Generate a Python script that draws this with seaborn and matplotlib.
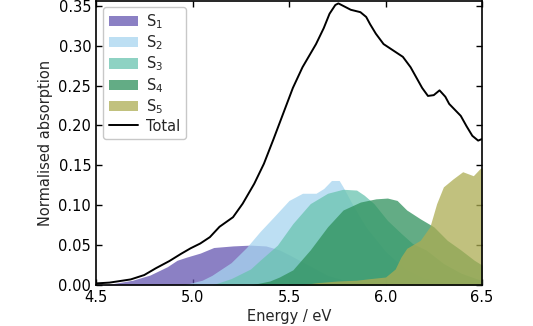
import numpy as np
import pandas as pd
import matplotlib
matplotlib.use("Agg")
import matplotlib.pyplot as plt
import seaborn as sns
from matplotlib.patches import Patch
from matplotlib.lines import Line2D

# ---- data ----
s1_x = [4.5, 4.57, 4.69, 4.78, 4.87, 4.92, 4.97, 5.04, 5.11, 5.21, 5.30, 5.38, 5.45, 5.5, 5.6, 5.7, 5.8, 5.9, 6.0]
s1_y = [0, 0.001, 0.006, 0.0125, 0.023, 0.031, 0.035, 0.040, 0.047, 0.049, 0.050, 0.049, 0.044, 0.038, 0.025, 0.012, 0.005, 0.002, 0]

s2_x = [4.95, 5.05, 5.1, 5.2, 5.28, 5.35, 5.42, 5.5, 5.57, 5.64, 5.68, 5.72, 5.76, 5.78, 5.82, 5.86, 5.9, 6.0, 6.1, 6.2, 6.3, 6.5]
s2_y = [0, 0.006, 0.012, 0.028, 0.047, 0.067, 0.085, 0.106, 0.115, 0.115, 0.121, 0.131, 0.131, 0.123, 0.105, 0.088, 0.072, 0.042, 0.02, 0.008, 0.003, 0]

s3_x = [5.1, 5.2, 5.3, 5.35, 5.44, 5.52, 5.61, 5.70, 5.78, 5.85, 5.89, 5.94, 6.01, 6.08, 6.14, 6.21, 6.30, 6.39, 6.47, 6.5]
s3_y = [0, 0.008, 0.02, 0.031, 0.05, 0.077, 0.102, 0.115, 0.120, 0.119, 0.1125, 0.102, 0.081, 0.065, 0.052, 0.044, 0.027, 0.015, 0.008, 0.006]

s4_x = [5.3, 5.4, 5.45, 5.52, 5.61, 5.70, 5.78, 5.87, 5.95, 6.01, 6.06, 6.11, 6.18, 6.25, 6.32, 6.39, 6.46, 6.5]
s4_y = [0, 0.005, 0.01, 0.019, 0.044, 0.073, 0.094, 0.104, 0.108, 0.109, 0.106, 0.094, 0.083, 0.073, 0.056, 0.044, 0.031, 0.025]

s5_x = [5.55, 5.65, 5.75, 5.85, 5.92, 6.0, 6.05, 6.08, 6.11, 6.18, 6.23, 6.265, 6.30, 6.35, 6.40, 6.455, 6.49, 6.5]
s5_y = [0, 0.003, 0.005, 0.006, 0.008, 0.010, 0.02, 0.035, 0.046, 0.056, 0.073, 0.102, 0.123, 0.133, 0.142, 0.137, 0.146, 0.147]

total_x = [4.5, 4.57, 4.68, 4.75, 4.81, 4.88, 4.94, 4.99, 5.04, 5.09, 5.14, 5.21, 5.26, 5.32, 5.37, 5.42, 5.47, 5.52,
           5.57, 5.64, 5.68, 5.71, 5.74, 5.756, 5.78, 5.82, 5.87, 5.90, 5.92, 5.95, 5.99, 6.04, 6.09, 6.13, 6.16,
           6.19, 6.22, 6.25, 6.28, 6.31, 6.33, 6.39, 6.42, 6.45, 6.48, 6.5]
total_y = [0.002, 0.003, 0.007, 0.0125, 0.021, 0.030, 0.039, 0.046, 0.052, 0.060, 0.073, 0.085, 0.102, 0.127, 0.152,
           0.183, 0.215, 0.247, 0.273, 0.302, 0.322, 0.340, 0.351, 0.353, 0.350, 0.345, 0.342, 0.336, 0.327, 0.315,
           0.302, 0.294, 0.286, 0.273, 0.260, 0.247, 0.237, 0.238, 0.244, 0.236, 0.227, 0.212, 0.199, 0.187, 0.181,
           0.183]

labels = ["S$_1$", "S$_2$", "S$_3$", "S$_4$", "S$_5$"]
colors = ["#6555b0", "#a7d5f0", "#69c4af", "#2f915c", "#adad53"]
xticks = [4.5, 5.0, 5.5, 6.0, 6.5]
yticks = [0.00, 0.05, 0.10, 0.15, 0.20, 0.25, 0.30, 0.35]

sns.set_style("ticks")
plt.rcParams['font.family'] = ['DejaVu Sans']

fig = plt.figure(figsize=(5.33, 3.26), dpi=100)
ax = fig.add_axes([96/533, 41/326, 386/533, 284/326])

series = [(s1_x, s1_y), (s2_x, s2_y), (s3_x, s3_y), (s4_x, s4_y), (s5_x, s5_y)]
for (xs, ys), c in zip(series, colors):
    ax.fill_between(xs, 0, ys, color=c, alpha=0.75, linewidth=0)

df_total = pd.DataFrame({"Energy": total_x, "Abs": total_y})
sns.lineplot(data=df_total, x="Energy", y="Abs", ax=ax, color="black", linewidth=1.4)

ax.set_xlim(4.5, 6.5)
ax.set_ylim(0, 0.356)
ax.set_xticks(xticks)
ax.set_xticklabels([f"{t:.1f}" for t in xticks])
ax.set_yticks(yticks)
ax.set_yticklabels([f"{t:.2f}" for t in yticks])
ax.tick_params(direction="in", top=True, right=True, length=4, width=1, labelsize=10.5, colors="black")
for sp in ax.spines.values():
    sp.set_color("black")
    sp.set_linewidth(1.2)
ax.set_xlabel("Energy / eV", fontsize=10.5, labelpad=3)
ax.set_ylabel("Normalised absorption", fontsize=10.5)

handles = [Patch(facecolor=c, alpha=0.75, edgecolor="none") for c in colors]
handles.append(Line2D([], [], color="black", linewidth=1.4))
leg = ax.legend(handles, labels + ["Total"], loc="upper left", fontsize=10.5, frameon=True,
                handlelength=2.0, handletextpad=0.6, labelspacing=0.18, borderaxespad=0.3,
                borderpad=0.35, bbox_to_anchor=(0.008, 0.995))
leg.get_frame().set_edgecolor("#bbbbbb")

fig.savefig("out.png", dpi=100)
